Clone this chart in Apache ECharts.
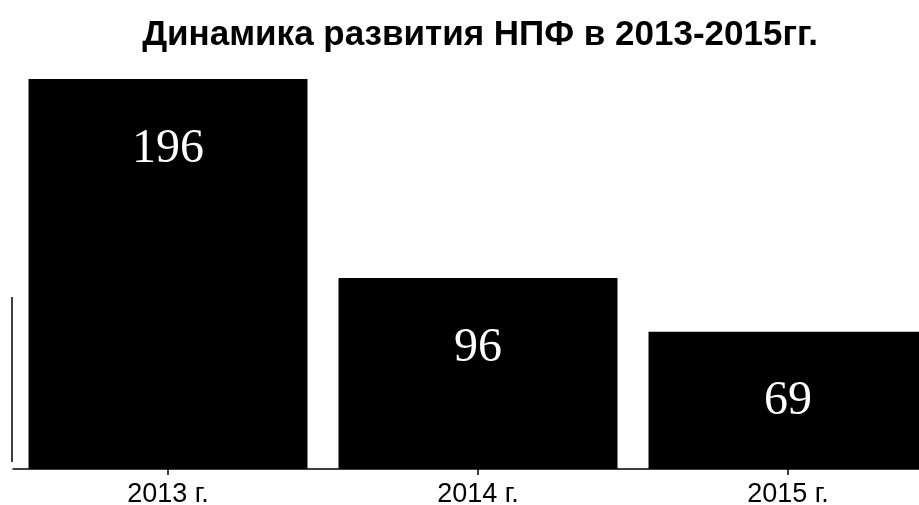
<!DOCTYPE html>
<html>
<head>
<meta charset="utf-8">
<script src="https://cdn.jsdelivr.net/npm/echarts@6/dist/echarts.min.js"></script>
<style>
  html, body { margin: 0; padding: 0; background: #fff; }
  #chart { width: 919px; height: 505px; }
</style>
</head>
<body>
<div id="chart"></div>
<script>
// Number of non-state pension funds by year
const titleText = 'Динамика развития НПФ в 2013-2015гг.';
const years = ['2013 г.', '2014 г.', '2015 г.'];
const fundCounts = [196, 96, 69];

const chart = echarts.init(document.getElementById('chart'), null, { renderer: 'canvas' });

chart.setOption({
  backgroundColor: '#ffffff',
  animation: false,
  title: {
    text: titleText,
    left: 475,
    textAlign: 'center',
    top: 13,
    textStyle: {
      fontFamily: 'Liberation Sans, Arial, sans-serif',
      fontWeight: 'bold',
      fontSize: 35,
      color: '#000'
    }
  },
  grid: {
    left: 13,
    width: 930,
    top: 71,
    height: 398,
    containLabel: false,
    outerBoundsMode: 'none'
  },
  xAxis: {
    type: 'category',
    data: years,
    axisLine: { show: true, lineStyle: { color: '#000', width: 1.5 } },
    axisTick: { show: true, alignWithLabel: true, length: 6, lineStyle: { color: '#000', width: 1.5 } },
    axisLabel: {
      margin: 12,
      fontFamily: 'Liberation Sans, Arial, sans-serif',
      fontSize: 27,
      color: '#000'
    }
  },
  yAxis: {
    type: 'value',
    min: 0,
    max: 200,
    show: false
  },
  series: [{
    type: 'bar',
    data: fundCounts,
    barWidth: 279,
    itemStyle: { color: '#000' },
    label: {
      show: true,
      position: 'insideTop',
      distance: 46,
      fontFamily: 'Liberation Serif, Times New Roman, serif',
      fontSize: 48,
      color: '#fff'
    }
  }],
  graphic: [{
    type: 'line',
    shape: { x1: 12, y1: 297, x2: 12, y2: 462 },
    style: { stroke: '#000', lineWidth: 1.5 }
  }]
});
</script>
</body>
</html>
